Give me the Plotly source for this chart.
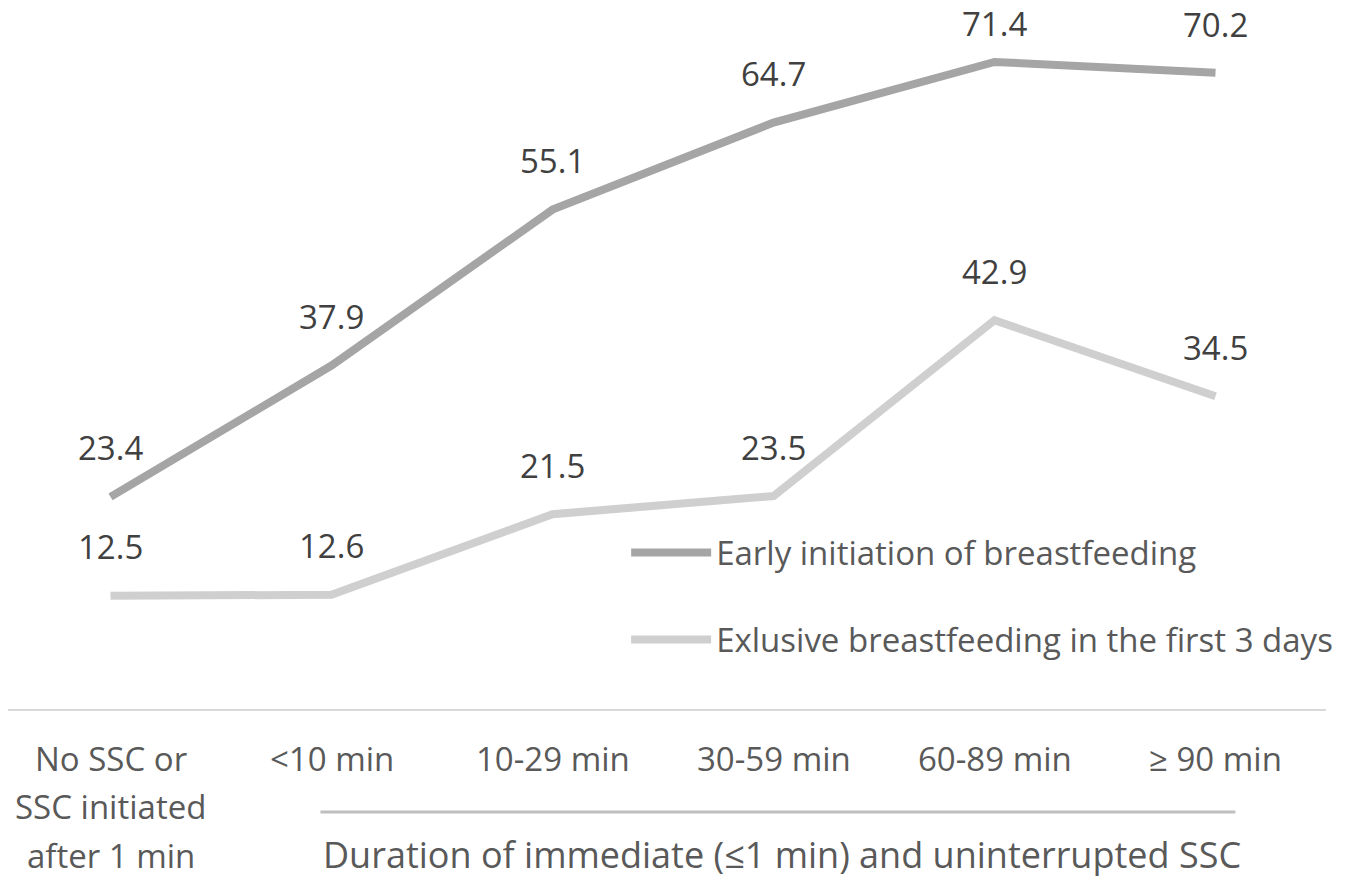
import plotly.graph_objects as go

categories = ["No SSC or<br>SSC initiated<br>after 1 min", "<10 min", "10-29 min", "30-59 min", "60-89 min", "≥ 90 min"]
early_init = [23.4, 37.9, 55.1, 64.7, 71.4, 70.2]
exclusive_bf = [12.5, 12.6, 21.5, 23.5, 42.9, 34.5]
series_names = ["Early initiation of breastfeeding", "Exlusive breastfeeding in the first 3 days"]
group_title = "Duration of immediate (≤1 min) and uninterrupted SSC"

FONT = "Open Sans"
DARK = "#a5a5a5"
LIGHT = "#cfcfcf"
LABEL = "#404040"
AXIS_TXT = "#595959"
FS = 33

PLOT_H = 701
Y_MAX = 77.35

xs = list(range(len(categories)))

fig = go.Figure()
fig.add_trace(go.Scatter(x=xs, y=early_init, mode="lines", name=series_names[0],
                         line=dict(color=DARK, width=8), legendgroup="a"))
fig.add_trace(go.Scatter(x=xs, y=exclusive_bf, mode="lines", name=series_names[1],
                         line=dict(color=LIGHT, width=8), legendgroup="b"))

ann = []
for series in (early_init, exclusive_bf):
    for xi, v in zip(xs, series):
        px_from_top = PLOT_H * (1 - v / Y_MAX)
        shift = min(49, px_from_top - 16)  # keep label inside the figure
        ann.append(dict(x=xi, y=v, xref="x", yref="y", text=f"{v:.1f}", showarrow=False,
                        yanchor="middle", yshift=shift, font=dict(family=FONT, size=FS, color=LABEL)))

for xi, c in zip(xs, categories):
    for k, line in enumerate(c.split("<br>")):
        ann.append(dict(x=xi, y=0, xref="x", yref="paper", text=line, showarrow=False,
                        yanchor="middle", yshift=-49 - 48.5 * k,
                        font=dict(family=FONT, size=FS, color=AXIS_TXT)))

ann.append(dict(x=3.037, y=0, xref="x", yref="paper", text=group_title, showarrow=False,
                yanchor="middle", yshift=-145, font=dict(family=FONT, size=36, color=AXIS_TXT)))

fig.update_layout(
    width=1350, height=876,
    margin=dict(l=0, r=32, t=0, b=876 - PLOT_H),
    paper_bgcolor="white", plot_bgcolor="white",
    annotations=ann,
    shapes=[dict(type="line", xref="x", yref="paper", x0=0.95, x1=5.09, y0=-0.147, y1=-0.147,
                 line=dict(color="#bfbfbf", width=3))],
    xaxis=dict(range=[-0.4638, 5.5], showticklabels=False, showgrid=False, zeroline=False,
               showline=True, linecolor="#d9d9d9", linewidth=2, ticks=""),
    yaxis=dict(range=[0, Y_MAX], visible=False, showgrid=False, zeroline=False),
    showlegend=True,
    legend=dict(x=0.469, y=0.161, xanchor="left", yanchor="middle", bgcolor="rgba(0,0,0,0)",
                font=dict(family=FONT, size=33, color=AXIS_TXT), tracegroupgap=41,
                traceorder="grouped", itemwidth=80),
)

fig.write_html("out.html")
